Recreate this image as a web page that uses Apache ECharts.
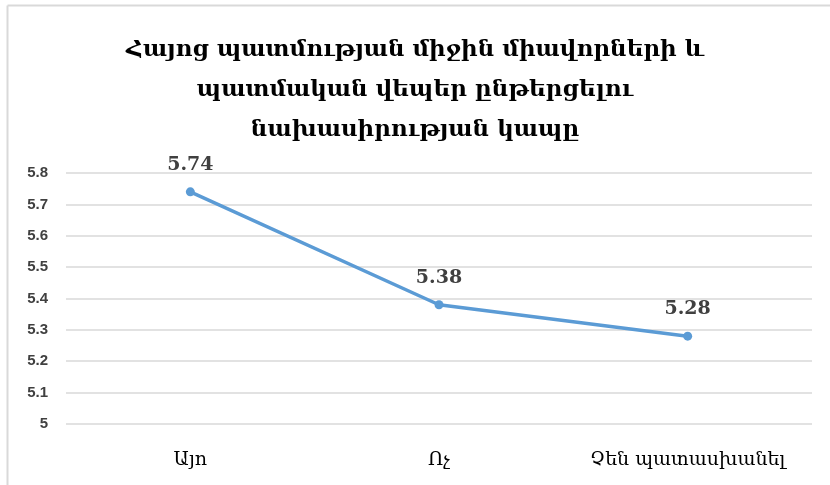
<!DOCTYPE html>
<html>
<head>
<meta charset="utf-8">
<script src="https://cdn.jsdelivr.net/npm/echarts@6/dist/echarts.min.js"></script>
<style>
  html, body { margin: 0; padding: 0; background: #fff; }
  #chart { width: 830px; height: 485px; }
</style>
</head>
<body>
<div id="chart"></div>
<script>
// Average history score grouped by the answer about reading historical novels
const titleLines = [
  'Հայոց պատմության միջին միավորների և',
  'պատմական վեպեր ընթերցելու',
  'նախասիրության կապը'
];
const categories = ['Այո', 'Ոչ', 'Չեն պատասխանել'];
const avgScores = [5.74, 5.38, 5.28];
const yTicks = { min: 5, max: 5.8, step: 0.1 };

const chart = echarts.init(document.getElementById('chart'), null, { renderer: 'canvas' });

chart.setOption({
  backgroundColor: '#ffffff',
  animation: false,
  title: {
    text: titleLines.join('\n'),
    left: 'center',
    top: 25,
    textStyle: {
      fontFamily: '"DejaVu Serif", serif',
      fontSize: 23,
      fontWeight: 'bold',
      color: '#000000',
      lineHeight: 40
    }
  },
  graphic: [
    { type: 'line', shape: { x1: 7.5, y1: 5.5, x2: 830, y2: 5.5 }, style: { stroke: '#d9d9d9', lineWidth: 2 } },
    { type: 'line', shape: { x1: 7.5, y1: 5.5, x2: 7.5, y2: 485 }, style: { stroke: '#d9d9d9', lineWidth: 2 } }
  ],
  grid: { left: 66, right: 18, top: 173, bottom: 61 },
  xAxis: {
    type: 'category',
    data: categories,
    boundaryGap: true,
    axisLine: { show: false },
    axisTick: { show: false },
    axisLabel: {
      interval: 0,
      hideOverlap: false,
      margin: 27,
      fontFamily: '"DejaVu Serif", serif',
      fontSize: 19,
      color: '#000000'
    }
  },
  yAxis: {
    type: 'value',
    min: yTicks.min,
    max: yTicks.max,
    interval: yTicks.step,
    axisLine: { show: false },
    axisTick: { show: false },
    axisLabel: {
      margin: 18,
      fontFamily: '"Liberation Sans", sans-serif',
      fontSize: 15,
      fontWeight: 'bold',
      color: '#404040',
      formatter: v => String(Math.round(v * 10) / 10)
    },
    splitLine: { lineStyle: { color: '#d9d9d9', width: 1.5 } }
  },
  series: [{
    type: 'line',
    data: avgScores,
    symbol: 'circle',
    symbolSize: 9,
    lineStyle: { color: '#5b9bd5', width: 3.5 },
    itemStyle: { color: '#5b9bd5' },
    label: {
      show: true,
      position: 'top',
      distance: 13,
      fontFamily: '"DejaVu Serif", serif',
      fontSize: 19,
      fontWeight: 'bold',
      color: '#404040',
      formatter: p => p.value.toFixed(2)
    }
  }]
});
</script>
</body>
</html>
